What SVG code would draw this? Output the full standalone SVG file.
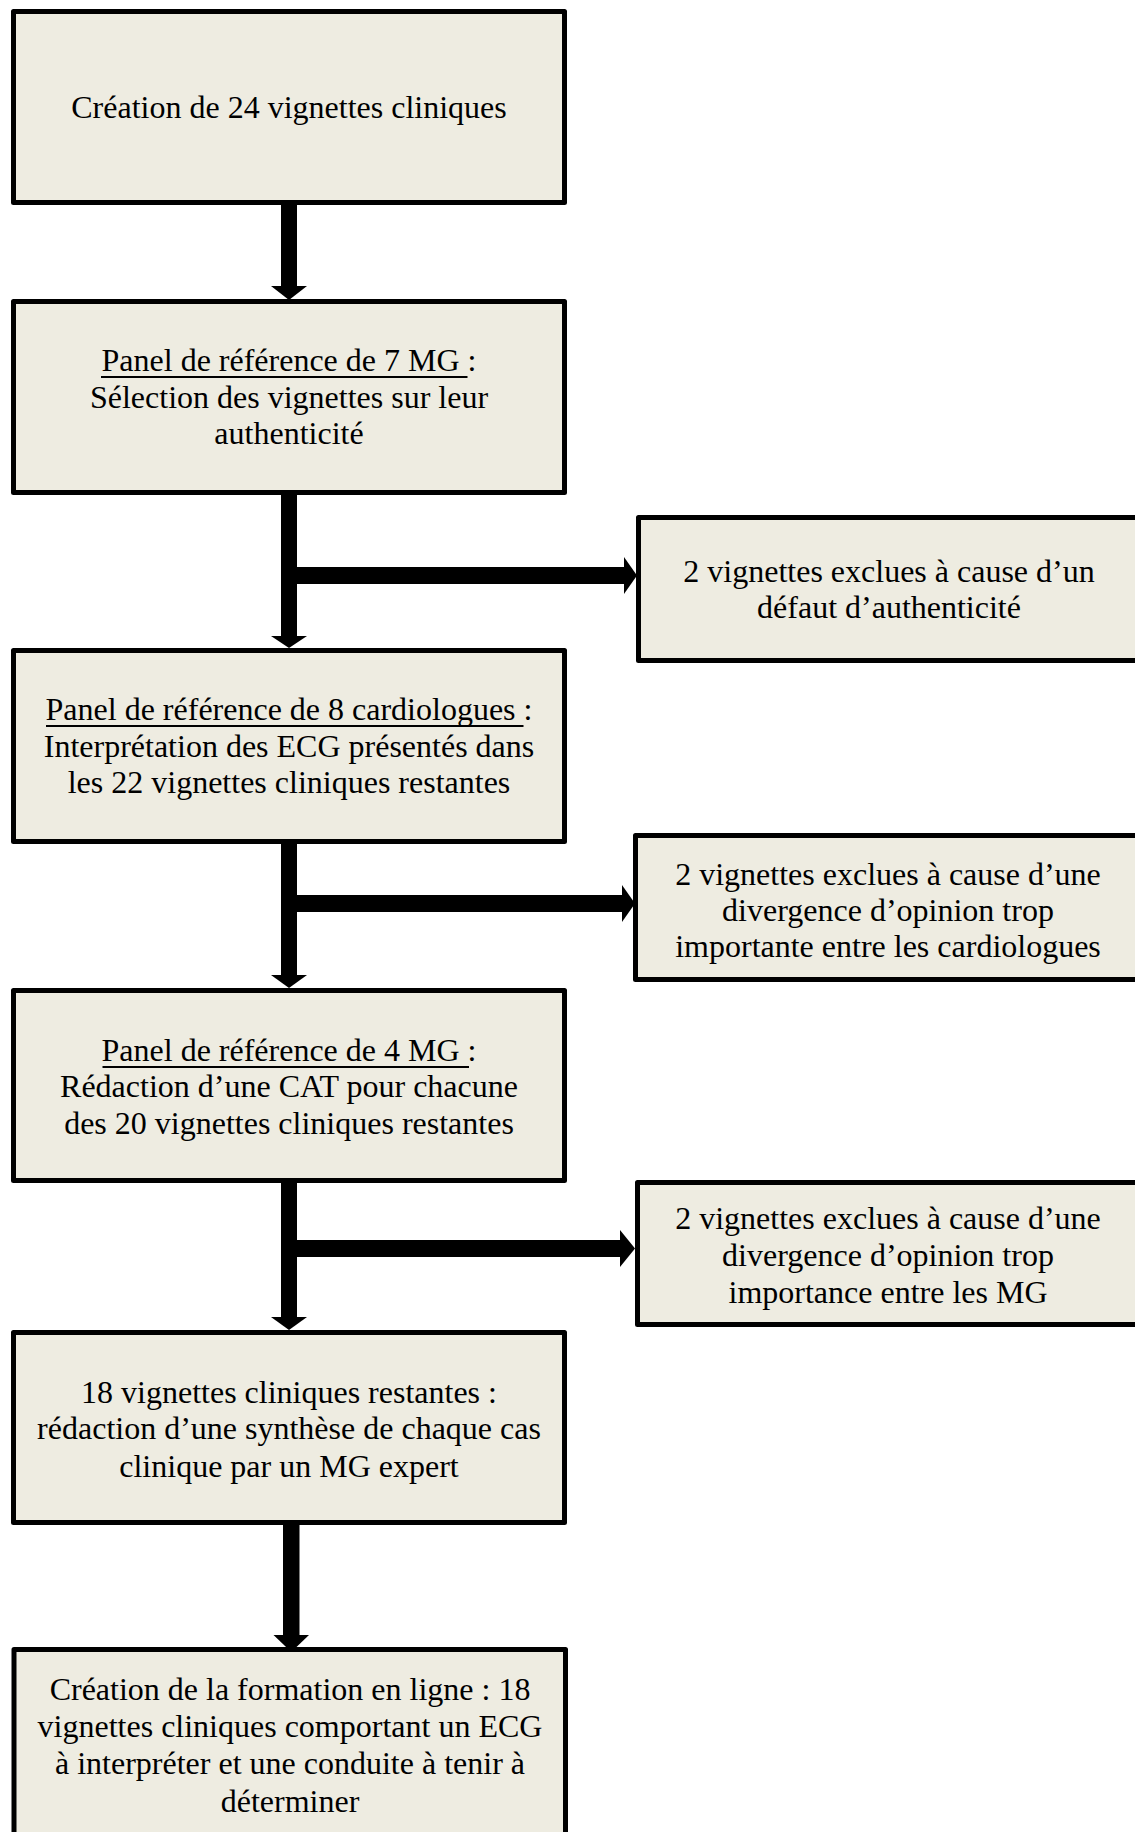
<svg xmlns="http://www.w3.org/2000/svg" width="1135" height="1832" viewBox="0 0 1135 1832">
<style>
.box{fill:#EEECE1;stroke:#000;stroke-width:5;stroke-linejoin:round}
.t{font-family:"Liberation Serif","Times New Roman",serif;font-size:32px;fill:#000;text-anchor:middle}
.ul{stroke:#000;stroke-width:2}
.c{fill:#000}
</style>
<rect width="1135" height="1832" fill="#fff"/>
<g id="connectors">
  <rect class="c" x="281" y="203" width="16" height="84"/>
  <polygon class="c" points="271,286 307,286 289,300"/>
  <rect class="c" x="281" y="493" width="16" height="144"/>
  <polygon class="c" points="271,636 307,636 289,648"/>
  <rect class="c" x="296" y="567" width="329" height="17"/>
  <polygon class="c" points="624,557 624,594 637,575.5"/>
  <rect class="c" x="281" y="842" width="16" height="134"/>
  <polygon class="c" points="271,975 307,975 289,988"/>
  <rect class="c" x="296" y="895" width="327" height="17"/>
  <polygon class="c" points="622,885 622,922 635,903.5"/>
  <rect class="c" x="281" y="1181" width="16" height="137"/>
  <polygon class="c" points="271,1317 307,1317 289,1330"/>
  <rect class="c" x="296" y="1240" width="325" height="17"/>
  <polygon class="c" points="620,1230 620,1267 635,1248.5"/>
  <rect class="c" x="283" y="1523" width="16.5" height="113"/>
  <polygon class="c" points="273.5,1635 309,1635 291.3,1652"/>
</g>
<g id="n1">
  <rect class="box" x="13.5" y="11.5" width="551" height="191"/>
  <text class="t" x="289" y="118">Création de 24 vignettes cliniques</text>
</g>
<g id="n2">
  <rect class="box" x="13.5" y="301.5" width="551" height="191"/>
  <text class="t" x="289" y="370.7">Panel de référence de 7 MG :</text>
  <line class="ul" x1="101" y1="377" x2="467.5" y2="377"/>
  <text class="t" x="289" y="407.7">Sélection des vignettes sur leur</text>
  <text class="t" x="289" y="444.3">authenticité</text>
</g>
<g id="n3">
  <rect class="box" x="13.5" y="650.5" width="551" height="191"/>
  <text class="t" x="289" y="720">Panel de référence de 8 cardiologues :</text>
  <line class="ul" x1="46" y1="726" x2="523.5" y2="726"/>
  <text class="t" x="289" y="756.7">Interprétation des ECG présentés dans</text>
  <text class="t" x="289" y="793.3">les 22 vignettes cliniques restantes</text>
</g>
<g id="n4">
  <rect class="box" x="13.5" y="990.5" width="551" height="190"/>
  <text class="t" x="289" y="1060.7">Panel de référence de 4 MG :</text>
  <line class="ul" x1="102.5" y1="1067" x2="469" y2="1067"/>
  <text class="t" x="289" y="1097.3">Rédaction d’une CAT pour chacune</text>
  <text class="t" x="289" y="1134">des 20 vignettes cliniques restantes</text>
</g>
<g id="n5">
  <rect class="box" x="13.5" y="1332.5" width="551" height="190"/>
  <text class="t" x="289" y="1403">18 vignettes cliniques restantes :</text>
  <text class="t" x="289" y="1439.3">rédaction d’une synthèse de chaque cas</text>
  <text class="t" x="289" y="1476.7">clinique par un MG expert</text>
</g>
<g id="n6">
  <rect class="box" x="14" y="1649.5" width="551.5" height="200"/>
  <text class="t" x="290" y="1700">Création de la formation en ligne : 18</text>
  <text class="t" x="290" y="1737.3">vignettes cliniques comportant un ECG</text>
  <text class="t" x="290" y="1774.3">à interpréter et une conduite à tenir à</text>
  <text class="t" x="290" y="1811.7">déterminer</text>
</g>
<g id="r1">
  <rect class="box" x="638.5" y="517.5" width="505" height="143"/>
  <text class="t" x="889" y="581.7">2 vignettes exclues à cause d’un</text>
  <text class="t" x="889" y="618.3">défaut d’authenticité</text>
</g>
<g id="r2">
  <rect class="box" x="635.5" y="835.5" width="508" height="144"/>
  <text class="t" x="888" y="885">2 vignettes exclues à cause d’une</text>
  <text class="t" x="888" y="920.5">divergence d’opinion trop</text>
  <text class="t" x="888" y="956.7">importante entre les cardiologues</text>
</g>
<g id="r3">
  <rect class="box" x="637.5" y="1182.5" width="506" height="142"/>
  <text class="t" x="888" y="1229.3">2 vignettes exclues à cause d’une</text>
  <text class="t" x="888" y="1266">divergence d’opinion trop</text>
  <text class="t" x="888" y="1302.7">importance entre les MG</text>
</g>
</svg>
